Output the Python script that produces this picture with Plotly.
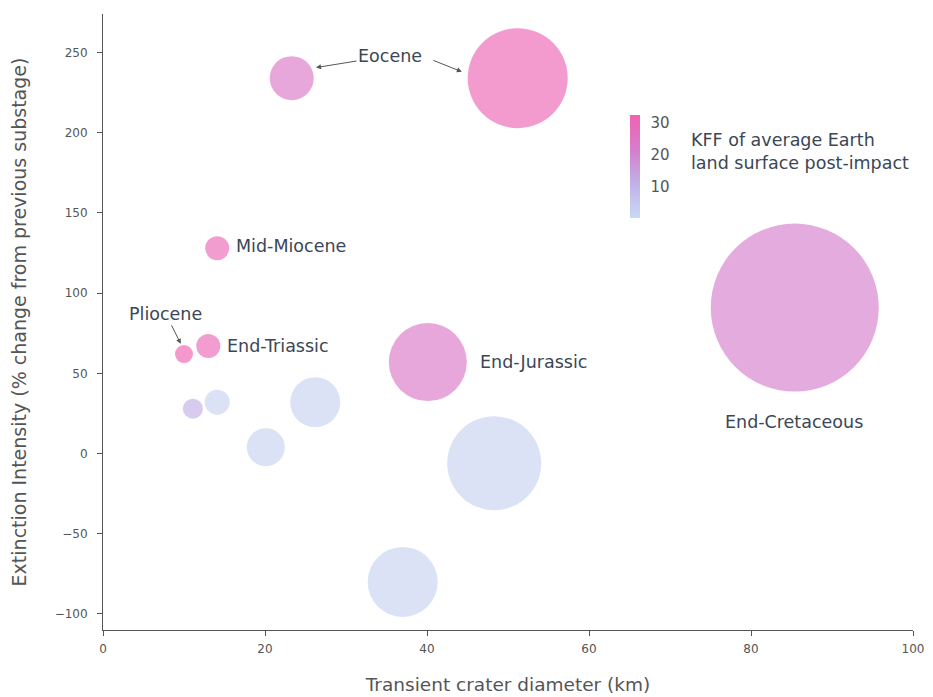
import plotly.graph_objects as go

# Data
crater_km = [23.3, 51.2, 85.4, 14.1, 10.0, 13.0, 40.1, 11.1, 14.1, 26.2, 20.1, 48.3, 37.0]
extinction = [234, 234, 91, 128, 62, 67, 57, 28, 32, 32, 4, -6, -80]
kff = [24, 31, 21.5, 30, 32.5, 30, 24, 11, 2, 2, 2, 2, 2]
bubble_size = [22, 50, 84, 12, 9, 12, 39, 10, 12.5, 25, 19, 47, 35]

label_text = ["Mid-Miocene", "End-Triassic", "End-Jurassic"]
label_x = [16.2, 15.1, 46.3]
label_y = [129.6, 67.2, 57.2]

FONT = "DejaVu Sans, Verdana, sans-serif"
TXT = "#3b4656"
AX = "#555"

fig = go.Figure()
fig.add_trace(go.Scatter(
    x=crater_km, y=extinction, mode="markers",
    marker=dict(
        size=bubble_size, sizemode="diameter", sizeref=0.5,
        color=kff, cmin=0, cmax=32.5,
        colorscale=[[0, "#c9d9f4"], [0.33, "#c0b2e6"], [0.66, "#d57ecd"], [1, "#f062b0"]],
        opacity=0.65, line=dict(width=0),
        colorbar=dict(
            x=0.65, xanchor="left", xpad=0,
            y=0.752, yanchor="middle", ypad=0,
            len=103, lenmode="pixels", thickness=10,
            outlinewidth=0, ticks="outside", ticklen=8, tickcolor="rgba(0,0,0,0)",
            tickvals=[10, 20, 30],
            tickfont=dict(size=15, color=AX, family=FONT),
        ),
    ),
    hoverinfo="skip", showlegend=False,
))

ann_font = dict(size=17.5, color=TXT, family=FONT)
annotations = []
for t, x, y in zip(label_text, label_x, label_y):
    annotations.append(dict(x=x, y=y, xref="x", yref="y", text=t, showarrow=False,
                            xanchor="left", yanchor="middle", font=ann_font))
annotations.append(dict(x=85.3, y=19.8, xref="x", yref="y", text="End-Cretaceous",
                        showarrow=False, font=ann_font))
# Eocene with two arrows
annotations.append(dict(x=26.3, y=240.6, xref="x", yref="y", text="Eocene",
                        showarrow=True, ax=74, ay=-12, arrowhead=2, arrowsize=1,
                        arrowwidth=1, arrowcolor=AX, font=ann_font))
annotations.append(dict(x=44.3, y=238, xref="x", yref="y", text="",
                        showarrow=True, ax=-30, ay=-12, arrowhead=2, arrowsize=1,
                        arrowwidth=1, arrowcolor=AX))
annotations.append(dict(x=9.6, y=68.4, xref="x", yref="y", text="Pliocene",
                        showarrow=True, ax=-15, ay=-30, arrowhead=2, arrowsize=1,
                        arrowwidth=1, arrowcolor=AX, font=ann_font))
annotations.append(dict(x=0.724, y=0.776, xref="paper", yref="paper",
                        text="KFF of average Earth<br>land surface post-impact",
                        showarrow=False, xanchor="left", yanchor="middle", align="left",
                        font=dict(size=17.5, color=TXT, family=FONT)))

axis_common = dict(showgrid=False, zeroline=False, showline=True, linecolor=AX,
                   linewidth=1, ticks="outside", ticklen=5, tickcolor=AX,
                   automargin=False,
                   tickfont=dict(size=12, color=AX, family=FONT))
fig.update_layout(
    width=933, height=697,
    margin=dict(l=95, r=28, t=6, b=75),
    plot_bgcolor="white", paper_bgcolor="white",
    xaxis=dict(range=[0, 100], dtick=20, ticklabelstandoff=3,
               title=dict(text="Transient crater diameter (km)",
                          font=dict(size=18.5, color=AX, family=FONT), standoff=22),
               **axis_common),
    yaxis=dict(range=[-110, 274], dtick=50, ticklabelstandoff=7,
               title=dict(text="Extinction Intensity (% change from previous substage)",
                          font=dict(size=19, color=AX, family=FONT), standoff=22),
               **axis_common),
    annotations=annotations,
)
fig.write_html("out.html")
